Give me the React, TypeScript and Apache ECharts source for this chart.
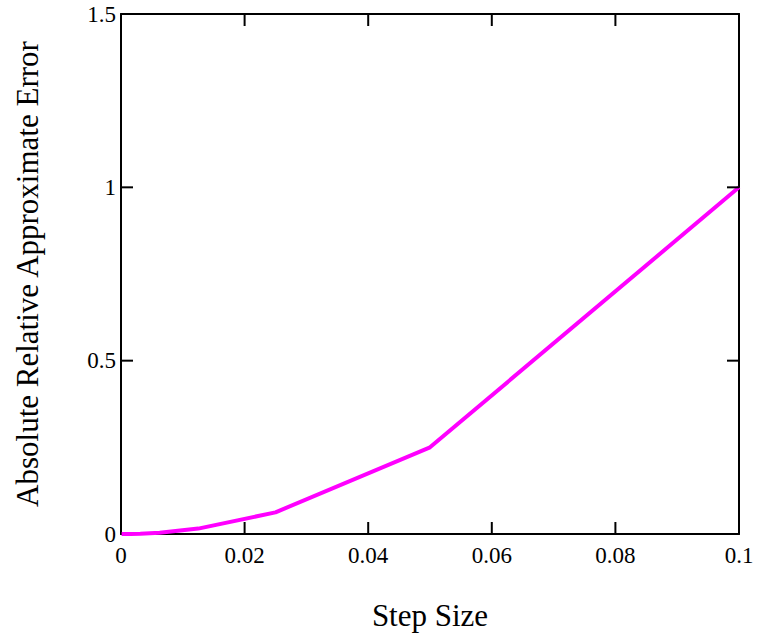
import React, { useEffect, useRef } from "react";
import * as echarts from "echarts";

const stepSizes = [0.1, 0.05, 0.025, 0.0125, 0.00625, 0.003125, 0.0015625, 0.00078125, 0.0001];
const errors = [1.0, 0.25, 0.0625, 0.015625, 0.0039, 0.00098, 0.00024, 0.00006, 0.000001];
const xTickValues = [0.02, 0.04, 0.06, 0.08];
const yTickValues = [0.5, 1.0];

const FONT = "'Liberation Serif', 'Times New Roman', serif";
const TICK_LEN = 12;

const mkLine = () => ({ show: true, onZero: false, lineStyle: { color: "#000000", width: 2 } });

const xBase = { type: "value", min: 0, max: 0.1, interval: 0.02, splitLine: { show: false }, axisTick: { show: false } };
const yBase = { type: "value", min: 0, max: 1.5, interval: 0.5, splitLine: { show: false }, axisTick: { show: false } };

export default function App() {
  const ref = useRef<HTMLDivElement>(null);
  useEffect(() => {
    if (!ref.current) return;
    const chart = echarts.init(ref.current, undefined, { renderer: "svg" });
    const data = stepSizes.map((x, i) => [x, errors[i]]).sort((a, b) => a[0] - b[0]);
    chart.setOption({
      animation: false,
      grid: { left: 121, right: 21, top: 14, bottom: 104, containLabel: false },
      xAxis: [
        {
          ...xBase,
          position: "bottom",
          name: "Step Size",
          nameLocation: "middle",
          nameGap: 66,
          nameTextStyle: { fontFamily: FONT, fontSize: 31, color: "#000" },
          axisLine: mkLine(),
          axisLabel: { fontFamily: FONT, fontSize: 23, color: "#000", margin: 10 },
        },
        { ...xBase, position: "top", axisLine: mkLine(), axisLabel: { show: false } },
      ],
      yAxis: [
        {
          ...yBase,
          position: "left",
          name: "Absolute Relative Approximate Error",
          nameLocation: "middle",
          nameGap: 78,
          nameTextStyle: { fontFamily: FONT, fontSize: 31, color: "#000" },
          axisLine: mkLine(),
          axisLabel: { fontFamily: FONT, fontSize: 23, color: "#000", margin: 5 },
        },
        { ...yBase, position: "right", axisLine: mkLine(), axisLabel: { show: false } },
      ],
      series: [
        {
          type: "line",
          data,
          showSymbol: false,
          symbol: "none",
          lineStyle: { color: "#ff00ff", width: 4 },
          itemStyle: { color: "#ff00ff" },
          z: 1,
        },
      ],
    });

    // inward tick marks on all four sides, placed through the chart's own scales
    const x0 = chart.convertToPixel({ xAxisIndex: 0 }, 0) as number;
    const x1 = chart.convertToPixel({ xAxisIndex: 0 }, 0.1) as number;
    const y0 = chart.convertToPixel({ yAxisIndex: 0 }, 0) as number;
    const y1 = chart.convertToPixel({ yAxisIndex: 0 }, 1.5) as number;
    const style = { stroke: "#000000", lineWidth: 2 };
    const ticks: any[] = [];
    xTickValues.forEach((v) => {
      const px = chart.convertToPixel({ xAxisIndex: 0 }, v) as number;
      ticks.push({ type: "line", shape: { x1: px, y1: y0, x2: px, y2: y0 - TICK_LEN }, style, z: 10 });
      ticks.push({ type: "line", shape: { x1: px, y1: y1, x2: px, y2: y1 + TICK_LEN }, style, z: 10 });
    });
    yTickValues.forEach((v) => {
      const py = chart.convertToPixel({ yAxisIndex: 0 }, v) as number;
      ticks.push({ type: "line", shape: { x1: x0, y1: py, x2: x0 + TICK_LEN, y2: py }, style, z: 10 });
      ticks.push({ type: "line", shape: { x1: x1, y1: py, x2: x1 - TICK_LEN, y2: py }, style, z: 10 });
    });
    chart.setOption({ graphic: ticks });

    return () => chart.dispose();
  }, []);
  return <div ref={ref} style={{ width: 760, height: 638, position: "absolute", left: 0, top: 0, background: "#fff" }} />;
}
